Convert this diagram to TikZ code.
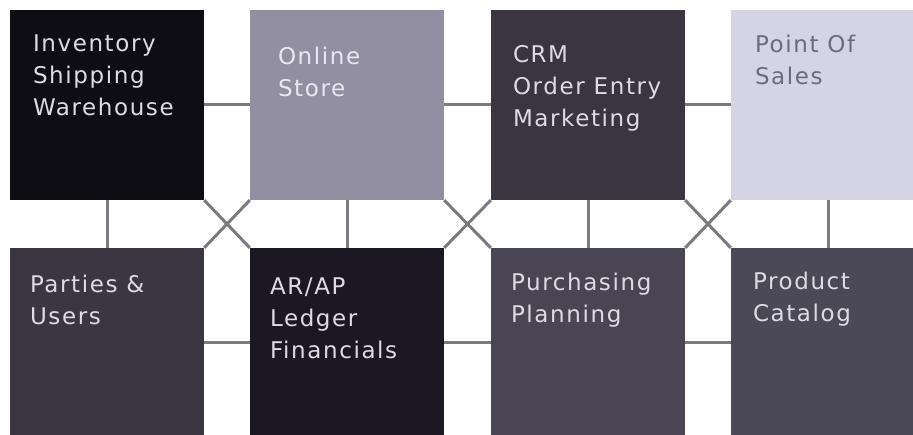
\documentclass[tikz,border=0pt]{standalone}
\usepackage{fontspec}
\usetikzlibrary{positioning, backgrounds}
\newfontfamily\tilefont{DejaVu Sans}[LetterSpace=7]
\definecolor{cLine}{RGB}{122,122,128}
\definecolor{cInv}{RGB}{15,13,20}
\definecolor{cOnline}{RGB}{147,143,162}
\definecolor{cCrm}{RGB}{58,53,64}
\definecolor{cPos}{RGB}{213,212,228}
\definecolor{cParty}{RGB}{60,54,67}
\definecolor{cFin}{RGB}{28,24,35}
\definecolor{cPurch}{RGB}{73,69,85}
\definecolor{cProd}{RGB}{75,72,88}
\definecolor{cLight}{RGB}{220,220,226}
\definecolor{cPale}{RGB}{232,232,238}
\definecolor{cDim}{RGB}{108,108,120}
\tikzset{
	tile/.style    ={rectangle, minimum width=194pt, minimum height=190pt, inner sep=0pt, draw=none},
	tiletext/.style={anchor=north west, inner sep=0pt, align=left, font=\tilefont\fontsize{23}{32}\selectfont},
	link/.style    ={draw=cLine, line width=3pt},
}

\begin{document}
\begin{tikzpicture}[x=1pt, y=-1pt]
	\useasboundingbox (0,0) rectangle (913,435);
	\clip (0,0) rectangle (913,435);
	% modules: name/centre x/centre y/fill/text colour/text offset/label
	\foreach \n/\cx/\cy/\col/\tcol/\dx/\dy/\lab in {
		inv/107/105/cInv/cLight/23/25/{Inventory\\Shipping\\Warehouse},
		online/347/105/cOnline/cPale/28/37/{Online\\Store},
		crm/588/105/cCrm/cLight/22/35/{CRM\\Order Entry\\Marketing},
		pos/828/105/cPos/cDim/24/25/{Point Of\\Sales},
		party/107/343/cParty/cLight/20/27/{Parties \&\\Users},
		fin/347/343/cFin/cLight/20/30/{AR/AP\\Ledger\\Financials},
		purch/588/343/cPurch/cLight/20/25/{Purchasing\\Planning},
		prod/828/343/cProd/cLight/22/24/{Product\\Catalog}} {
		\node[tile, fill=\col] (\n) at (\cx,\cy) {};
		\node[tiletext, text=\tcol] (\n-txt) at ([shift={(\dx,\dy)}]\n.north west) {\lab};
	}
	\begin{scope}[on background layer]
		\fill[white] (0,0) rectangle (913,435);
		% rows
		\draw[link] (inv.east) -- (online.west);
		\draw[link] (online.east) -- (crm.west);
		\draw[link] (crm.east) -- (pos.west);
		\draw[link] (party.east) -- (fin.west);
		\draw[link] (fin.east) -- (purch.west);
		\draw[link] (purch.east) -- (prod.west);
		% columns
		\draw[link] (inv.south) -- (party.north);
		\draw[link] (online.south) -- (fin.north);
		\draw[link] (crm.south) -- (purch.north);
		\draw[link] (pos.south) -- (prod.north);
		% crossings
		\draw[link] (inv.south east) -- (fin.north west);
		\draw[link] (online.south west) -- (party.north east);
		\draw[link] (online.south east) -- (purch.north west);
		\draw[link] (crm.south west) -- (fin.north east);
		\draw[link] (crm.south east) -- (prod.north west);
		\draw[link] (pos.south west) -- (purch.north east);
	\end{scope}
\end{tikzpicture}
\end{document}
